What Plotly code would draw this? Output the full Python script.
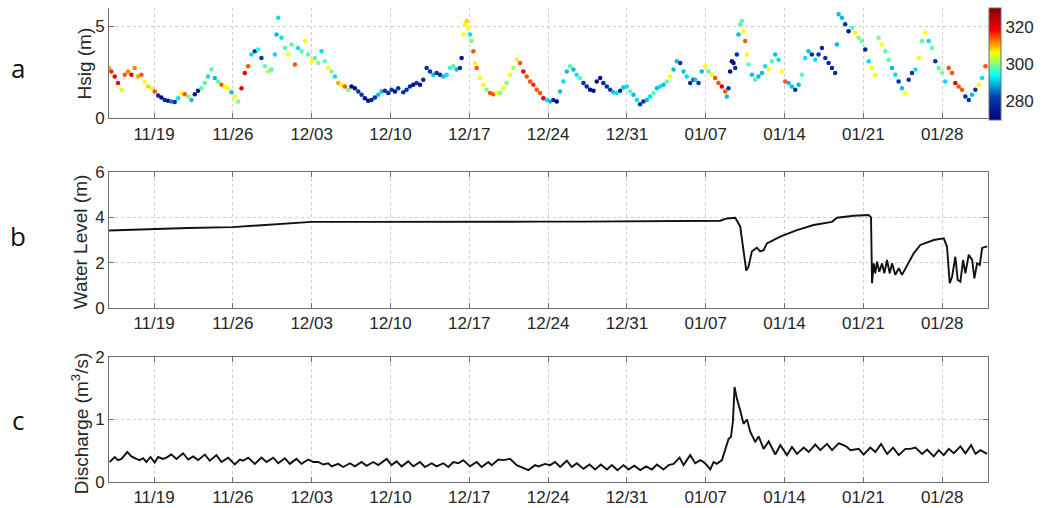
import pandas as pd
import plotly.graph_objects as go

START = pd.Timestamp("2013-11-15")
X_END_DAY = 78.07

# ---- panel a: significant wave height (m), coloured by wave direction (deg) ----
hsig_day = [
    0.02, 0.21, 0.51, 0.80, 1.10, 1.40, 1.69, 1.99, 2.28, 2.58,
    2.88, 3.17, 3.47, 3.77, 4.06, 4.36, 4.65, 4.95, 5.25, 5.54,
    5.84, 6.14, 6.43, 6.73, 7.03, 7.32, 7.62, 7.91, 8.21, 8.51,
    8.80, 9.10, 9.40, 9.69, 9.99, 10.28, 10.58, 10.88, 11.17, 11.47,
    11.77, 12.06, 12.36, 12.65, 12.95, 13.25, 13.54, 13.84, 14.14, 14.43,
    14.73, 14.88, 15.03, 15.32, 15.62, 15.91, 16.21, 16.51, 16.80, 17.10,
    17.40, 17.69, 17.99, 18.28, 18.58, 18.88, 19.17, 19.47, 19.77, 20.06,
    20.36, 20.65, 20.95, 21.25, 21.54, 21.84, 22.14, 22.43, 22.73, 23.02,
    23.32, 23.62, 23.91, 24.21, 24.51, 24.80, 25.10, 25.40, 25.69, 26.14,
    26.43, 26.73, 27.03, 27.32, 27.62, 27.91, 28.21, 28.51, 28.80, 29.10,
    29.40, 29.69, 29.99, 30.28, 30.58, 30.88, 31.17, 31.32, 31.47, 31.62,
    31.77, 31.91, 32.06, 32.21, 32.36, 32.51, 32.65, 32.95, 33.25, 33.54,
    33.84, 34.14, 34.43, 34.73, 35.02, 35.32, 35.62, 35.91, 36.21, 36.51,
    36.80, 37.10, 37.40, 37.69, 37.99, 38.28, 38.58, 38.88, 39.17, 39.47,
    39.77, 40.06, 40.36, 40.66, 40.95, 41.25, 41.54, 41.84, 42.14, 42.43,
    42.73, 43.03, 43.32, 43.62, 43.91, 44.21, 44.51, 44.80, 45.10, 45.40,
    45.69, 45.99, 46.28, 46.58, 46.88, 47.17, 47.47, 47.77, 48.06, 48.36,
    48.66, 48.95, 49.25, 49.54, 49.84, 50.14, 50.43, 50.73, 51.03, 51.32,
    51.62, 51.91, 52.06, 52.36, 52.65, 52.95, 53.25, 53.54, 53.84, 54.13,
    54.43, 54.73, 54.87, 55.02, 55.17, 55.32, 55.47, 55.62, 55.76, 55.91,
    56.06, 56.21, 56.36, 56.50, 56.65, 56.80, 57.10, 57.39, 57.69, 57.99,
    58.28, 58.58, 58.87, 59.17, 59.47, 59.76, 60.06, 60.36, 60.65, 60.95,
    61.25, 61.54, 61.84, 62.13, 62.43, 62.73, 63.02, 63.32, 63.62, 63.91,
    64.21, 64.50, 64.65, 64.80, 65.10, 65.39, 65.69, 65.99, 66.28, 66.58,
    66.87, 67.17, 67.47, 67.76, 68.06, 68.36, 68.65, 68.95, 69.25, 69.54,
    69.84, 70.13, 70.43, 70.73, 71.02, 71.32, 71.62, 71.91, 72.21, 72.50,
    72.80, 73.10, 73.39, 73.69, 73.99, 74.28, 74.58, 74.88, 75.17, 75.47,
    75.76, 76.06, 76.36, 76.65, 76.95, 77.25, 77.54, 77.84,
]
hsig_m = [
    2.74, 2.55, 2.28, 1.92, 1.55, 2.37, 2.55, 2.37, 2.74, 2.28,
    2.37, 2.00, 1.73, 1.64, 1.46, 1.24, 1.13, 1.00, 0.95, 0.91,
    0.88, 1.09, 1.37, 1.31, 1.19, 1.00, 1.31, 1.50, 1.64, 1.92,
    2.28, 2.65, 2.19, 2.00, 1.82, 1.73, 1.64, 1.42, 1.19, 0.91,
    1.64, 2.46, 2.83, 3.47, 3.65, 3.74, 3.28, 2.83, 2.55, 2.65,
    3.47, 4.56, 5.47, 4.38, 3.83, 3.47, 4.01, 2.92, 3.83, 3.65,
    4.20, 3.47, 3.10, 3.28, 3.01, 3.65, 3.10, 2.74, 2.55, 2.28,
    1.92, 1.82, 1.73, 1.55, 1.73, 1.64, 1.46, 1.28, 1.09, 0.95,
    1.00, 1.13, 1.28, 1.46, 1.50, 1.37, 1.55, 1.46, 1.64, 1.42,
    1.55, 1.73, 1.82, 1.92, 1.82, 2.10, 2.74, 2.55, 2.37, 2.46,
    2.37, 2.28, 2.37, 2.74, 2.83, 2.65, 2.74, 3.28, 4.56, 5.11,
    5.29, 4.93, 4.56, 4.20, 3.65, 3.01, 2.74, 2.19, 1.82, 1.55,
    1.37, 1.31, 1.37, 1.37, 1.64, 1.92, 2.37, 2.74, 3.19, 3.01,
    2.55, 2.28, 2.00, 1.82, 1.55, 1.37, 1.09, 1.00, 0.91, 1.00,
    0.91, 1.46, 2.00, 2.55, 2.83, 2.65, 2.37, 2.19, 1.92, 1.73,
    1.55, 1.50, 2.00, 2.19, 1.92, 1.73, 1.55, 1.42, 1.37, 1.50,
    1.68, 1.73, 1.46, 1.28, 1.00, 0.77, 0.91, 1.00, 1.19, 1.37,
    1.64, 1.73, 1.82, 2.00, 2.28, 2.65, 3.10, 3.01, 2.55, 2.28,
    1.92, 2.10, 2.10, 1.92, 2.55, 2.83, 2.55, 2.37, 2.19, 1.92,
    1.73, 1.46, 1.19, 1.64, 2.55, 3.10, 3.01, 2.74, 3.47, 4.56,
    5.11, 5.29, 4.74, 4.20, 3.47, 2.92, 2.37, 2.10, 2.28, 2.46,
    2.83, 2.65, 3.10, 3.47, 3.19, 2.55, 2.00, 1.92, 1.73, 1.55,
    1.82, 2.37, 3.28, 3.65, 3.47, 3.19, 3.47, 3.83, 3.28, 3.01,
    2.74, 2.46, 4.01, 5.66, 5.47, 5.11, 4.74, 4.93, 4.65, 4.38,
    4.20, 3.74, 3.10, 2.74, 2.37, 4.38, 4.01, 3.65, 3.19, 2.74,
    2.37, 2.00, 1.64, 1.37, 2.10, 2.46, 2.65, 3.28, 4.20, 4.65,
    4.20, 3.83, 3.10, 2.74, 2.46, 2.00, 2.74, 2.46, 1.92, 1.73,
    1.55, 1.19, 1.00, 1.28, 1.55, 1.82, 2.19, 2.83,
]
wave_dir = [
    310, 316, 320, 318, 304, 314, 312, 320, 312, 310,
    314, 306, 308, 304, 314, 280, 272, 278, 274, 286,
    280, 292, 306, 314, 300, 290, 274, 274, 298, 298,
    292, 298, 290, 298, 314, 306, 306, 290, 306, 300,
    320, 320, 314, 292, 282, 296, 282, 298, 302, 298,
    292, 290, 292, 292, 298, 306, 298, 314, 292, 298,
    306, 298, 306, 298, 300, 292, 298, 306, 300, 292,
    310, 306, 314, 300, 272, 272, 280, 280, 272, 272,
    278, 280, 290, 290, 280, 278, 280, 272, 280, 280,
    280, 278, 272, 280, 272, 278, 280, 280, 290, 280,
    278, 290, 292, 296, 298, 290, 280, 274, 306, 306,
    308, 306, 292, 300, 314, 306, 314, 306, 306, 300,
    314, 314, 306, 300, 306, 300, 306, 302, 304, 314,
    320, 314, 314, 316, 314, 314, 320, 292, 290, 280,
    272, 290, 292, 290, 298, 290, 292, 298, 280, 278,
    272, 272, 272, 272, 278, 280, 280, 290, 292, 280,
    290, 292, 298, 290, 292, 280, 280, 290, 292, 298,
    290, 292, 290, 298, 306, 290, 290, 280, 290, 292,
    280, 280, 290, 280, 290, 306, 298, 306, 314, 314,
    320, 314, 290, 280, 272, 272, 272, 278, 280, 290,
    298, 298, 306, 314, 306, 298, 290, 298, 290, 290,
    292, 306, 298, 290, 292, 306, 314, 290, 290, 280,
    290, 298, 292, 290, 280, 292, 280, 278, 280, 278,
    278, 280, 290, 290, 290, 280, 274, 298, 306, 300,
    298, 276, 292, 306, 306, 300, 306, 298, 298, 290,
    292, 280, 290, 306, 280, 280, 292, 306, 298, 306,
    292, 298, 280, 298, 300, 292, 314, 314, 320, 314,
    314, 280, 280, 290, 280, 306, 292, 314,
]

# ---- panel b: water level (m) ----
level_day = [
    0.0, 2, 4, 7, 11, 12, 14, 16, 18, 22,
    26, 30, 34, 38, 42, 46, 50, 54.29, 54.88, 55.62,
    56.06, 56.51, 56.60, 56.80, 57.10, 57.54, 57.84, 58.14, 58.43, 59.62,
    61.10, 62.58, 64.21, 64.66, 66.14, 67.47, 67.68, 67.77, 67.92, 68.06,
    68.21, 68.42, 68.66, 68.86, 69.10, 69.34, 69.55, 69.84, 70.14, 70.43,
    70.88, 71.47, 72.06, 73.25, 74.14, 74.43, 74.67, 74.88, 75.17, 75.38,
    75.62, 75.86, 76.06, 76.36, 76.66, 76.86, 77.10, 77.34, 77.55, 78.0,
]
level_m = [
    3.42, 3.46, 3.50, 3.53, 3.57, 3.60, 3.67, 3.73, 3.80, 3.80,
    3.81, 3.82, 3.82, 3.81, 3.81, 3.82, 3.84, 3.85, 3.95, 3.98,
    3.60, 1.90, 1.65, 1.82, 2.50, 2.66, 2.50, 2.55, 2.85, 3.15,
    3.44, 3.66, 3.80, 3.98, 4.07, 4.10, 4.00, 1.09, 1.97, 1.53,
    2.04, 1.60, 1.97, 1.53, 2.12, 1.53, 1.97, 1.46, 1.76, 1.46,
    1.90, 2.41, 2.78, 3.00, 3.07, 2.70, 1.09, 1.38, 2.26, 1.24,
    1.16, 2.12, 1.53, 2.35, 2.12, 1.31, 1.97, 1.90, 2.65, 2.72,
]

# ---- panel c: discharge (m3/s) ----
flow_day = [
    0.06, 0.51, 0.80, 1.10, 1.63, 1.99, 2.43, 2.73, 3.03, 3.32,
    3.68, 4.06, 4.36, 4.80, 5.10, 5.54, 5.99, 6.58, 7.03, 7.47,
    7.91, 8.51, 8.95, 9.54, 9.99, 10.58, 11.17, 11.62, 11.91, 12.36,
    12.95, 13.54, 13.99, 14.58, 15.03, 15.62, 16.06, 16.65, 17.10, 17.69,
    18.14, 18.58, 19.03, 19.47, 19.77, 20.36, 20.80, 21.40, 21.84, 22.43,
    22.88, 23.47, 23.91, 24.66, 25.10, 25.54, 25.99, 26.58, 27.03, 27.62,
    28.06, 28.66, 29.10, 29.69, 30.14, 30.58, 31.03, 31.47, 32.06, 32.65,
    33.10, 33.69, 33.99, 34.58, 35.03, 35.62, 36.21, 36.65, 37.25, 37.84,
    38.14,
    38.73, 39.18, 39.62, 40.07, 40.66, 41.10, 41.55, 42.14, 42.68, 43.18,
    43.68, 44.22, 44.66, 45.16, 45.70, 46.14, 46.65, 47.18, 47.71, 48.22,
    48.66, 49.25, 49.70, 50.14, 50.68, 51.03, 51.62, 52.07, 52.51, 52.81,
    53.10, 53.40, 53.70, 53.99, 54.44, 54.73, 55.03, 55.24, 55.42, 55.56,
    55.77, 56.07, 56.36, 56.66, 56.96, 57.40, 57.70, 58.14, 58.59, 59.18,
    59.62, 60.22, 60.66, 61.11, 61.70, 62.14, 62.73, 63.18, 63.77, 64.22,
    64.81, 65.25, 65.55, 65.85, 66.59, 67.03, 67.62, 68.07, 68.57, 69.11,
    69.64, 70.14, 70.73, 71.18, 71.62, 72.22, 72.66, 73.25, 73.70, 74.14,
    74.59, 75.03, 75.62, 76.07, 76.57, 76.96, 77.40, 77.99,
]
flow_m3s = [
    0.32, 0.40, 0.35, 0.37, 0.48, 0.41, 0.37, 0.35, 0.38, 0.32,
    0.40, 0.31, 0.40, 0.37, 0.39, 0.44, 0.37, 0.46, 0.36, 0.41,
    0.35, 0.44, 0.34, 0.43, 0.32, 0.39, 0.28, 0.36, 0.34, 0.39,
    0.29, 0.39, 0.32, 0.39, 0.30, 0.38, 0.29, 0.37, 0.29, 0.36,
    0.32, 0.32, 0.28, 0.30, 0.25, 0.29, 0.24, 0.30, 0.25, 0.32,
    0.26, 0.32, 0.27, 0.37, 0.27, 0.33, 0.25, 0.33, 0.25, 0.32,
    0.24, 0.30, 0.25, 0.30, 0.24, 0.32, 0.30, 0.35, 0.25, 0.32,
    0.24, 0.32, 0.27, 0.36, 0.35, 0.37, 0.27, 0.24, 0.19, 0.27,
    0.25,
    0.29, 0.27, 0.32, 0.24, 0.34, 0.24, 0.30, 0.21, 0.28, 0.20,
    0.28, 0.20, 0.27, 0.19, 0.27, 0.20, 0.26, 0.19, 0.25, 0.20,
    0.28, 0.20, 0.27, 0.29, 0.39, 0.27, 0.43, 0.30, 0.35, 0.32,
    0.27, 0.20, 0.32, 0.29, 0.35, 0.53, 0.69, 0.72, 0.98, 1.52,
    1.33, 1.14, 0.93, 1.00, 0.80, 0.64, 0.73, 0.53, 0.65, 0.44,
    0.59, 0.43, 0.56, 0.45, 0.55, 0.48, 0.60, 0.51, 0.61, 0.51,
    0.62, 0.59, 0.56, 0.51, 0.53, 0.44, 0.55, 0.48, 0.61, 0.45,
    0.55, 0.43, 0.53, 0.53, 0.55, 0.45, 0.52, 0.41, 0.51, 0.43,
    0.53, 0.46, 0.57, 0.46, 0.59, 0.45, 0.51, 0.45,
]

tick_days = [4, 11, 18, 25, 32, 39, 46, 53, 60, 67, 74]
tick_labels = ["11/19", "11/26", "12/03", "12/10", "12/17", "12/24",
               "12/31", "01/07", "01/14", "01/21", "01/28"]
panel_letters = ["a", "b", "c"]
axis_titles = ["Hsig (m)", "Water Level (m)", "Discharge (m<sup>3</sup>/s)"]

assert len(hsig_day) == len(hsig_m) == len(wave_dir)
assert len(level_day) == len(level_m)
assert len(flow_day) == len(flow_m3s)


def to_dates(days):
    return [START + pd.Timedelta(days=float(d)) for d in days]


FONT = "Liberation Sans, Arial, Helvetica, sans-serif"
AX = "#6e6e6e"
GRID = "#cdcdcd"

fig = go.Figure()
fig.add_trace(go.Scatter(
    x=to_dates(hsig_day), y=hsig_m, mode="markers", xaxis="x", yaxis="y",
    marker=dict(size=4.5, color=wave_dir, colorscale="Jet", cmin=270, cmax=330,
                line=dict(width=0),
                colorbar=dict(x=1.0011, xanchor="left", y=1.0, yanchor="top",
                              len=0.2357, lenmode="fraction", thickness=12,
                              xpad=0, ypad=0, outlinecolor=AX, outlinewidth=1,
                              tickvals=[280, 300, 320], ticks="",
                              tickfont=dict(family=FONT, size=17, color="#262626"))),
    showlegend=False))
fig.add_trace(go.Scatter(
    x=to_dates(level_day), y=level_m, mode="lines", xaxis="x2", yaxis="y2",
    line=dict(color="#111111", width=1.9), showlegend=False))
fig.add_trace(go.Scatter(
    x=to_dates(flow_day), y=flow_m3s, mode="lines", xaxis="x3", yaxis="y3",
    line=dict(color="#111111", width=1.9), showlegend=False))

xrange = [START, START + pd.Timedelta(days=X_END_DAY)]
common_x = dict(range=xrange, tickmode="array", tickvals=to_dates(tick_days),
                ticktext=tick_labels, showgrid=True, gridcolor=GRID, griddash="dot",
                gridwidth=1, ticks="inside", ticklen=5, tickcolor=AX, showline=True,
                linecolor=AX, linewidth=1, zeroline=False, automargin=False,
                tickfont=dict(family=FONT, size=17, color="#262626"))
common_y = dict(showgrid=True, gridcolor=GRID, griddash="dot", gridwidth=1,
                ticks="inside", ticklen=5, tickcolor=AX, showline=True,
                linecolor=AX, linewidth=1, zeroline=False, automargin=False,
                tickfont=dict(family=FONT, size=17, color="#262626"))
title_font = dict(family=FONT, size=19, color="#262626")

fig.update_layout(
    width=1045, height=508, paper_bgcolor="white", plot_bgcolor="white",
    margin=dict(l=109, r=57, t=8, b=26, pad=0),
    xaxis=dict(domain=[0, 1], anchor="y", mirror=False, **common_x),
    yaxis=dict(domain=[0.7673, 1.0], anchor="x", range=[0, 6], tickvals=[0, 5],
               mirror=False, **common_y),
    xaxis2=dict(domain=[0, 1], anchor="y2", mirror="ticks", **common_x),
    yaxis2=dict(domain=[0.3671, 0.654], anchor="x2", range=[0, 6],
                tickvals=[0, 2, 4, 6], mirror="ticks", **common_y),
    xaxis3=dict(domain=[0, 1], anchor="y3", mirror="ticks", **common_x),
    yaxis3=dict(domain=[0, 0.2637], anchor="x3", range=[0, 2],
                tickvals=[0, 1, 2], mirror="ticks", **common_y),
)

# rotated y-axis titles
for title, xp, yp in zip(axis_titles, [-0.0284, -0.033, -0.033], [0.883, 0.506, 0.124]):
    fig.add_annotation(text=title, xref="paper", yref="paper", x=xp, y=yp,
                       xanchor="center", yanchor="middle", textangle=-90,
                       showarrow=False, font=title_font)

for letter, yp in zip(panel_letters, [0.873, 0.519, 0.131]):
    fig.add_annotation(text=letter, xref="paper", yref="paper", x=-0.103, y=yp,
                       xanchor="center", yanchor="middle", showarrow=False,
                       font=dict(family="Open Sans, sans-serif", size=26, color="#111111"))

fig.write_html("out.html", config={"displayModeBar": False},
               post_script="document.body.style.margin='0px';"
                           "document.body.style.overflow='hidden';")
